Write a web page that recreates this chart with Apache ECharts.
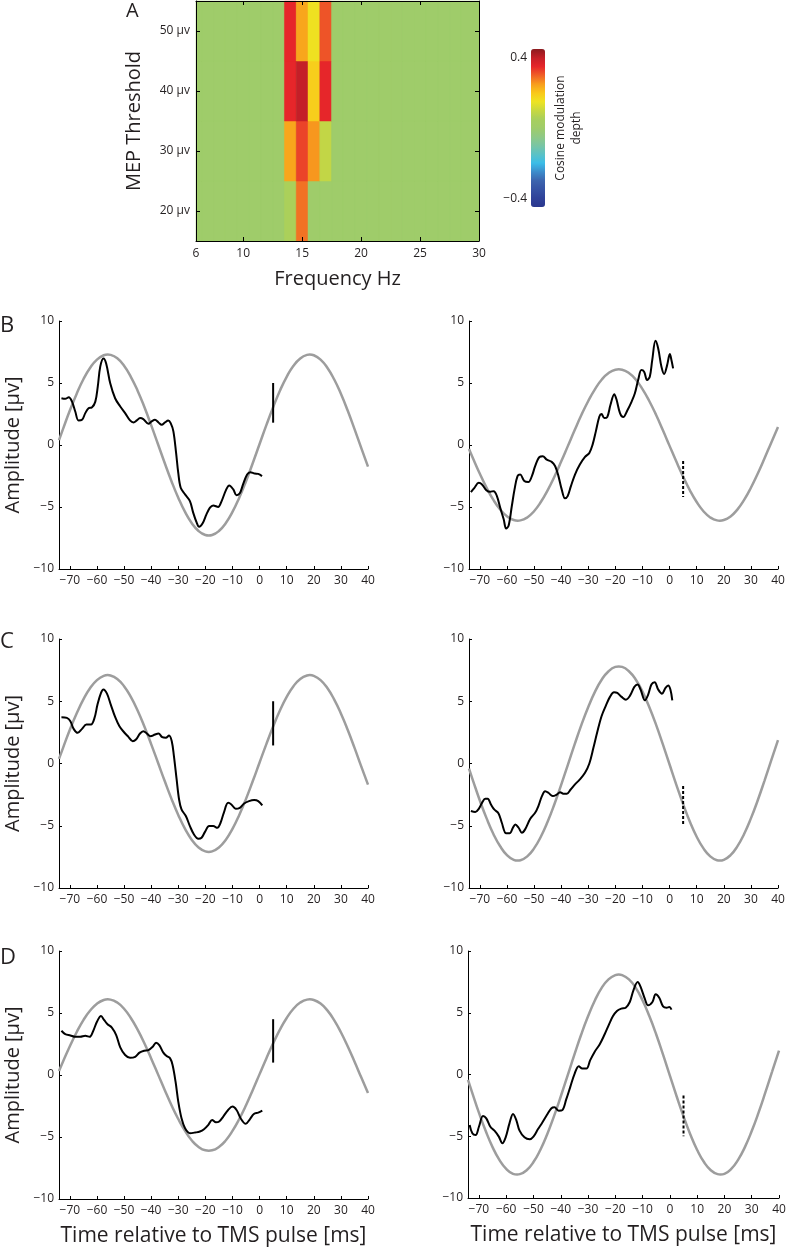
<!DOCTYPE html>
<html><head><meta charset="utf-8">
<script src="https://cdn.jsdelivr.net/npm/echarts@6/dist/echarts.min.js"></script>
<style>html,body{margin:0;padding:0;background:#fff}#c{width:787px;height:1252px}</style>
</head><body><div id="c"></div>
<script>
// ---------- Panel A data ----------
const freqHz = [6,7,8,9,10,11,12,13,14,15,16,17,18,19,20,21,22,23,24,25,26,27,28,29,30];
const thresholdsUv = [20,30,40,50];
const depthAt20 = [0,0,0,0,0,0,0,0, 0.055,0.285,0,0,    0,0,0,0,0,0,0,0,0,0,0,0,0];
const depthAt30 = [0,0,0,0,0,0,0,0, 0.24,0.325,0.255,0.09, 0,0,0,0,0,0,0,0,0,0,0,0,0];
const depthAt40 = [0,0,0,0,0,0,0,0, 0.35,0.40,0.19,0.35,  0,0,0,0,0,0,0,0,0,0,0,0,0];
const depthAt50 = [0,0,0,0,0,0,0,0, 0.35,0.24,0.155,0.31, 0,0,0,0,0,0,0,0,0,0,0,0,0];
const freqLabels = [6,10,15,20,25,30];
const freqTicks = [10,15,20,25];
const thresholdTicks = [20,30,40,50];
const colorbarTicks = [-0.4,0.4];
const jetSoft = ['#2a378e','#2f4299','#3552a4','#3c64ae','#3c8ccb','#3bbde8','#5ac2c6','#79c5a4','#8fc986','#9fcc6a','#a8cf5d','#c8d840','#eee422','#f9c81a','#f89d1d','#f05f27','#e6262a','#c41f28','#8c1b1f'];

// ---------- Panels B-D data ----------
const timeTicks = [-70,-60,-50,-40,-30,-20,-10,0,10,20,30,40];
const ampTicks = [-10,-5,0,5,10];
const fitTimeMs = [-74,-72.5,-70,-67.5,-65,-62.5,-60,-57.5,-56,-55,-52.5,-50,-47.5,-45,-42.5,-40,-37.5,-35,-32.5,-30,-27.5,-25,-22.5,-20,-18.75,-17.5,-15,-12.5,-10,-7.5,-5,-2.5,0,2.5,5,7.5,10,12.5,15,17.5,18.5,20,22.5,25,27.5,30,32.5,35,37.5,40];
const fitBL = [0.39,1.30,2.78,4.12,5.30,6.23,6.89,7.24,7.30,7.27,6.99,6.39,5.50,4.38,3.06,1.60,0.08,-1.45,-2.92,-4.25,-5.40,-6.31,-6.94,-7.26,-7.30,-7.26,-6.94,-6.31,-5.40,-4.25,-2.92,-1.45,0.08,1.60,3.05,4.38,5.50,6.39,6.98,7.27,7.30,7.24,6.89,6.23,5.30,4.13,2.78,1.30,-0.23,-1.75];
const fitBR = [-0.32,-1.09,-2.32,-3.45,-4.43,-5.20,-5.75,-6.05,-6.10,-6.08,-5.84,-5.34,-4.60,-3.66,-2.56,-1.34,-0.07,1.21,2.44,3.55,4.51,5.28,5.80,6.07,6.10,6.07,5.80,5.28,4.51,3.55,2.44,1.21,-0.07,-1.34,-2.55,-3.66,-4.60,-5.34,-5.84,-6.08,-6.10,-6.05,-5.76,-5.21,-4.43,-3.45,-2.32,-1.09,0.19,1.46];
const fitCL = [0.37,1.26,2.71,4.01,5.15,6.06,6.70,7.04,7.10,7.07,6.79,6.21,5.35,4.26,2.97,1.56,0.08,-1.41,-2.84,-4.13,-5.25,-6.14,-6.75,-7.06,-7.10,-7.06,-6.75,-6.14,-5.25,-4.13,-2.84,-1.41,0.08,1.56,2.97,4.26,5.35,6.21,6.79,7.07,7.10,7.04,6.70,6.06,5.15,4.02,2.71,1.27,-0.23,-1.70];
const fitCR = [-0.41,-1.39,-2.97,-4.41,-5.66,-6.65,-7.36,-7.74,-7.80,-7.77,-7.46,-6.82,-5.88,-4.68,-3.27,-1.71,-0.09,1.55,3.12,4.54,5.77,6.75,7.41,7.76,7.80,7.76,7.41,6.75,5.77,4.54,3.12,1.55,-0.08,-1.71,-3.26,-4.68,-5.88,-6.82,-7.46,-7.77,-7.80,-7.74,-7.36,-6.66,-5.66,-4.41,-2.97,-1.39,0.25,1.87];
const fitDL = [0.32,1.09,2.32,3.45,4.43,5.20,5.75,6.05,6.10,6.08,5.84,5.34,4.60,3.66,2.56,1.34,0.07,-1.21,-2.44,-3.55,-4.51,-5.28,-5.80,-6.07,-6.10,-6.07,-5.80,-5.28,-4.51,-3.55,-2.44,-1.21,0.07,1.34,2.55,3.66,4.60,5.34,5.84,6.08,6.10,6.05,5.76,5.21,4.43,3.45,2.32,1.09,-0.19,-1.46];
const fitDR = [-0.43,-1.44,-3.09,-4.58,-5.88,-6.91,-7.64,-8.04,-8.10,-8.07,-7.75,-7.09,-6.11,-4.86,-3.39,-1.78,-0.09,1.61,3.24,4.71,5.99,7.01,7.70,8.05,8.10,8.05,7.70,7.01,5.99,4.71,3.24,1.61,-0.09,-1.78,-3.39,-4.86,-6.11,-7.09,-7.75,-8.07,-8.10,-8.04,-7.64,-6.91,-5.88,-4.58,-3.09,-1.45,0.26,1.94];

const traceBL = [[-73.1,3.77],[-71.7,3.72],[-70.4,3.85],[-69.2,3.5],[-68,2.7],[-66.8,1.98],[-65.5,2.03],[-64.3,2.57],[-63.1,2.97],[-61.9,3.02],[-60.6,3.5],[-59.7,4.7],[-58.8,6.3],[-57.6,6.98],[-56.6,6.58],[-55.1,4.97],[-53.3,3.77],[-51.4,3.1],[-49.6,2.57],[-47.8,1.98],[-46.5,1.82],[-45.3,1.98],[-44.1,2.17],[-42.9,2.09],[-41,1.71],[-39.8,1.9],[-38.6,2.03],[-37.3,1.82],[-36.1,1.63],[-34.9,1.82],[-33.7,1.98],[-32.8,1.76],[-31.8,1.1],[-30.8,-0.64],[-30,-2.25],[-29.1,-3.45],[-27.5,-3.98],[-25.7,-4.52],[-24.5,-5.45],[-23.2,-6.26],[-22.3,-6.6],[-21,-6.31],[-19.6,-5.59],[-18.3,-5.05],[-17.1,-4.87],[-15.3,-5.0],[-14,-4.52],[-12.4,-3.64],[-11.2,-3.26],[-9.7,-3.58],[-8.5,-4.06],[-7.3,-3.9],[-6.1,-3.18],[-4.6,-2.38],[-3.4,-2.19],[-1.8,-2.3],[-0.5,-2.33],[0.9,-2.51]];
const traceBR = [[-73.3,-3.8],[-72,-3.45],[-70.4,-3.05],[-69.2,-3.18],[-67.6,-3.64],[-66.2,-3.77],[-64.9,-3.72],[-63.7,-4.12],[-62.5,-5.05],[-61.2,-5.99],[-60.3,-6.74],[-59.4,-6.52],[-58.2,-4.92],[-57.2,-3.58],[-56.1,-2.51],[-55.1,-2.38],[-53.6,-2.91],[-52.1,-2.99],[-50.8,-2.51],[-49.6,-1.71],[-48,-0.96],[-46.8,-0.91],[-45.3,-1.18],[-43.5,-1.36],[-42.2,-1.71],[-41,-2.51],[-39.8,-3.58],[-38.6,-4.3],[-37.6,-4.12],[-36.4,-3.32],[-34.9,-2.38],[-33.1,-1.58],[-31.2,-0.96],[-29.6,-0.64],[-28.4,0.03],[-27.2,1.1],[-25.9,2.3],[-25.1,2.49],[-24.1,2.17],[-23,2.25],[-21.8,3.24],[-20.4,4.09],[-19.6,3.69],[-18.3,2.57],[-17.1,2.25],[-15.6,2.78],[-14,3.5],[-12.8,4.17],[-11.6,5.24],[-10.4,6.04],[-9.4,5.91],[-8.3,5.24],[-7.3,5.51],[-6.4,6.84],[-5.2,8.4],[-4.2,7.78],[-3,6.31],[-2,5.72],[-0.9,6.44],[0.1,7.33],[0.7,6.84],[1.3,6.18]];
const traceCL = [[-73.1,3.72],[-71.1,3.66],[-69.8,3.4],[-68.6,2.78],[-67.1,2.46],[-65.5,2.78],[-63.9,3.13],[-62.2,3.13],[-60.9,3.66],[-59.8,4.73],[-58.5,5.67],[-57.6,5.94],[-56.3,5.61],[-54.9,4.73],[-53.3,3.74],[-51.7,2.99],[-50,2.51],[-48.4,2.14],[-46.8,1.79],[-45.6,1.93],[-44.1,2.41],[-42.9,2.59],[-41.6,2.41],[-40.2,2.19],[-38.6,2.33],[-37.3,2.41],[-35.9,2.11],[-34.6,2.06],[-33.4,2.25],[-32.4,1.79],[-31.6,0.59],[-30.6,-1.28],[-29.7,-2.89],[-28.8,-3.69],[-27.2,-4.22],[-25.7,-5.03],[-24.2,-5.7],[-22.6,-6.04],[-21.4,-5.96],[-20.2,-5.51],[-18.6,-5.03],[-17.1,-5.03],[-15.6,-5.16],[-14.4,-4.76],[-13.2,-3.96],[-11.6,-3.16],[-10.4,-3.29],[-8.8,-3.64],[-7.3,-3.56],[-5.7,-3.21],[-3.9,-3.02],[-2,-2.94],[-0.5,-3.02],[1,-3.37]];
const traceCR = [[-73.3,-3.82],[-71.7,-3.9],[-70.4,-3.64],[-69.2,-3.16],[-68,-2.83],[-67.1,-2.83],[-65.9,-3.29],[-64.7,-3.69],[-63.1,-4.01],[-61.9,-4.76],[-60.3,-5.61],[-59,-5.61],[-57.8,-5.16],[-56.9,-4.89],[-55.7,-5.16],[-54.5,-5.56],[-53.3,-5.29],[-51.4,-4.44],[-49.6,-3.96],[-48.4,-3.42],[-47.1,-2.62],[-45.9,-2.22],[-44.7,-2.35],[-43.1,-2.62],[-41.6,-2.49],[-40.4,-2.3],[-39.2,-2.43],[-37.9,-2.43],[-36.5,-2.09],[-34.9,-1.68],[-33.1,-1.28],[-31.2,-0.75],[-29.6,0],[-28.1,1.26],[-26.7,2.51],[-25.1,3.8],[-23.5,4.65],[-22,5.35],[-20.5,5.72],[-19.3,5.67],[-17.7,5.35],[-16.1,5.13],[-14.6,5.45],[-13,6.15],[-11.8,6.34],[-10.7,5.94],[-9.1,5.08],[-7.9,5.53],[-6.7,6.34],[-5.5,6.52],[-4.2,5.94],[-2.8,5.61],[-1.5,6.07],[-0.5,6.26],[0.3,5.94],[1,5.08]];
const traceDL = [[-73.1,3.57],[-71.7,3.3],[-69.8,3.19],[-68,3.08],[-66.2,3.08],[-64.3,3.16],[-62.7,3.08],[-61.5,3.49],[-60,4.29],[-58.5,4.75],[-57.3,4.42],[-56.1,4.1],[-54.5,3.83],[-52.9,3.22],[-51.4,2.23],[-49.6,1.61],[-47.8,1.39],[-45.9,1.47],[-44.3,1.8],[-42.6,1.96],[-41,2.01],[-39.4,2.28],[-38.2,2.6],[-37,2.41],[-35.5,1.8],[-34.3,1.53],[-33,1.34],[-32.1,0.8],[-31,-0.54],[-30,-2.14],[-28.8,-3.49],[-27.5,-4.29],[-25.7,-4.69],[-23.8,-4.64],[-22,-4.56],[-20.5,-4.37],[-18.9,-4.02],[-17.5,-3.62],[-16.1,-3.81],[-14.9,-3.75],[-13.4,-3.35],[-11.6,-2.82],[-10,-2.55],[-8.5,-2.82],[-7,-3.49],[-5.1,-3.94],[-3.6,-3.57],[-2.1,-3.14],[-0.5,-3.03],[1,-2.87]];
const traceDR = [[-73.4,-4.09],[-72.4,-4.76],[-71.2,-4.9],[-70,-4.23],[-68.5,-3.36],[-67.3,-3.55],[-65.8,-4.23],[-64.3,-4.55],[-62.7,-5.03],[-61.4,-5.57],[-60.2,-5.09],[-58.8,-3.96],[-57.5,-3.2],[-56.3,-3.69],[-55.1,-4.55],[-53.3,-5.09],[-51.4,-5.25],[-50,-5.03],[-48.4,-4.44],[-46.8,-3.9],[-45.1,-3.28],[-43.5,-2.75],[-42.3,-2.66],[-40.7,-2.93],[-39.4,-2.88],[-38,-2.02],[-36.5,-1],[-34.9,0.08],[-33.4,0.67],[-32.1,0.48],[-30.6,0.48],[-29.2,1.16],[-27.6,1.83],[-25.7,2.45],[-23.9,3.26],[-22.3,4.06],[-20.9,4.71],[-19.4,5.14],[-17.8,5.33],[-16.2,5.41],[-14.7,5.87],[-13.3,6.86],[-11.8,7.48],[-10.8,7.13],[-9.2,6.14],[-8,5.6],[-6.4,5.87],[-5.2,6.49],[-3.9,6.22],[-2.5,5.52],[-1.2,5.41],[-0.2,5.46],[0.6,5.25]];

const markerBL = [[5,1.8],[5,5.0]];
const markerBR = [[5,-1.3],[5,-4.2]];
const markerCL = [[5,1.45],[5,5.0]];
const markerCR = [[5,-1.8],[5,-5.0]];
const markerDL = [[5,1.0],[5,4.5]];
const markerDR = [[5,-1.7],[5,-5.0]];

const panelLetters = ['A','B','C','D'];

// ---------- build ----------
const FONT = 'Open Sans';
const TXT = '#231f20';
const minus = v => (v < 0 ? '\u2212' : '') + Math.abs(v);

const heatData = [];
[depthAt20, depthAt30, depthAt40, depthAt50].forEach((row, i) => {
  row.forEach((v, j) => heatData.push([freqHz[j], thresholdsUv[i], v]));
});
const halfW = (freqHz[1] - freqHz[0]) / 2;
const halfH = (thresholdsUv[1] - thresholdsUv[0]) / 2;

const grids = [
  {left:196, top:1, width:283, height:240, show:true, backgroundColor:'#9fcc6a', borderWidth:0},    // heatmap
  {left:531, top:49, width:14, height:158},    // colorbar axis
  {left:59, top:321, width:309, height:248},   // BL
  {left:469, top:321, width:309, height:248},  // BR
  {left:59, top:639, width:309, height:249},   // CL
  {left:469, top:639, width:309, height:249},  // CR
  {left:59, top:951, width:309, height:248},   // DL
  {left:468, top:951, width:311, height:247}   // DR
].map(g => Object.assign({outerBoundsMode:'none', containLabel:false}, g));

const axLine = {show:true, onZero:false, lineStyle:{color:'#000', width:1}};
const xAxes = [
  {gridIndex:0, type:'value', min:6, max:30, z:10, axisLine:axLine,
   axisTick:{show:true, inside:true, length:4, customValues:freqTicks, lineStyle:{color:'#000'}},
   axisLabel:{customValues:freqLabels, margin:7, fontFamily:FONT, fontSize:12, color:TXT},
   splitLine:{show:false},
   name:'Frequency Hz', nameLocation:'middle', nameGap:28,
   nameTextStyle:{fontFamily:FONT, fontSize:20, color:TXT}},
  {gridIndex:0, type:'value', min:6, max:30, position:'top', z:10, axisLine:axLine,
   axisTick:{show:true, inside:true, length:4, customValues:freqTicks, lineStyle:{color:'#000'}},
   axisLabel:{show:false}, splitLine:{show:false}},
  {gridIndex:1, type:'value', min:0, max:1, show:false}
];
const yAxes = [
  {gridIndex:0, type:'value', min:15, max:55, z:10, axisLine:axLine,
   axisTick:{show:true, inside:true, length:4, customValues:thresholdTicks, lineStyle:{color:'#000'}},
   axisLabel:{customValues:thresholdTicks, margin:6, fontFamily:FONT, fontSize:12, color:TXT, formatter: v => v + ' \u00b5v'},
   splitLine:{show:false},
   name:'MEP Threshold', nameLocation:'middle', nameGap:52,
   nameTextStyle:{fontFamily:FONT, fontSize:20, color:TXT}},
  {gridIndex:0, type:'value', min:15, max:55, position:'right', z:10, axisLine:axLine,
   axisTick:{show:true, inside:true, length:4, customValues:thresholdTicks, lineStyle:{color:'#000'}},
   axisLabel:{show:false}, splitLine:{show:false}},
  {gridIndex:1, type:'value', min:-0.45, max:0.45, axisLine:{show:false}, axisTick:{show:false},
   axisLabel:{customValues:colorbarTicks, margin:4, fontFamily:FONT, fontSize:12, color:TXT, formatter:minus},
   splitLine:{show:false}},
  {gridIndex:1, type:'value', min:-0.45, max:0.45, position:'right', axisLine:{show:false}, axisTick:{show:false},
   axisLabel:{show:false}, splitLine:{show:false},
   name:'Cosine modulation\ndepth', nameLocation:'middle', nameRotate:90, nameGap:8,
   nameTextStyle:{fontFamily:FONT, fontSize:12, color:TXT, lineHeight:16}}
];

const series = [{
  type:'custom', xAxisIndex:0, yAxisIndex:0, data:heatData, z:2,
  renderItem: function (params, api) {
    const f = api.value(0), th = api.value(1);
    const p1 = api.coord([f - halfW, th + halfH]);
    const p2 = api.coord([f + halfW, th - halfH]);
    const cs = params.coordSys;
    const r = echarts.graphic.clipRectByRect(
      {x:p1[0], y:p1[1], width:p2[0]-p1[0], height:p2[1]-p1[1]},
      {x:cs.x, y:cs.y, width:cs.width, height:cs.height});
    if (!r) return;
    const c = api.visual('color');
    return {type:'rect', shape:r, style:{fill:c, stroke:c, lineWidth:0.5}};
  }
}];

const panels = [
  {fit:fitBL, trace:traceBL, marker:markerBL, dashed:false, left:true,  bottom:false},
  {fit:fitBR, trace:traceBR, marker:markerBR, dashed:true,  left:false, bottom:false},
  {fit:fitCL, trace:traceCL, marker:markerCL, dashed:false, left:true,  bottom:false},
  {fit:fitCR, trace:traceCR, marker:markerCR, dashed:true,  left:false, bottom:false},
  {fit:fitDL, trace:traceDL, marker:markerDL, dashed:false, left:true,  bottom:true},
  {fit:fitDR, trace:traceDR, marker:markerDR, dashed:true,  left:false, bottom:true}
];
panels.forEach((p, k) => {
  const gi = k + 2;
  const xi = xAxes.length, yi = yAxes.length;
  const xa = {gridIndex:gi, type:'value', min:-74, max:40, axisLine:axLine,
    axisTick:{show:true, inside:true, length:3, customValues:timeTicks, lineStyle:{color:'#000'}},
    axisLabel:{customValues:timeTicks, margin:6, fontFamily:FONT, fontSize:12, color:TXT, formatter:minus},
    splitLine:{show:false}};
  if (p.bottom) Object.assign(xa, {name:'Time relative to TMS pulse [ms]', nameLocation:'middle', nameGap:27,
    nameTextStyle:{fontFamily:FONT, fontSize:21, color:TXT}});
  const ya = {gridIndex:gi, type:'value', min:-10, max:10, interval:5, axisLine:axLine,
    axisTick:{show:true, inside:true, length:3, customValues:ampTicks, lineStyle:{color:'#000'}},
    axisLabel:{customValues:ampTicks, margin:5, fontFamily:FONT, fontSize:12, color:TXT, formatter:minus},
    splitLine:{show:false}};
  if (p.left) Object.assign(ya, {name:'Amplitude [\u00b5v]', nameLocation:'middle', nameGap:36,
    nameTextStyle:{fontFamily:FONT, fontSize:20, color:TXT}});
  xAxes.push(xa); yAxes.push(ya);
  series.push({type:'line', xAxisIndex:xi, yAxisIndex:yi, smooth:true, showSymbol:false, symbol:'none',
    data: fitTimeMs.map((t, i) => [t, p.fit[i]]), lineStyle:{color:'#9d9d9d', width:2.5}, z:2});
  series.push({type:'line', xAxisIndex:xi, yAxisIndex:yi, smooth:0.35, showSymbol:false, symbol:'none',
    data: p.trace, lineStyle:{color:'#000', width:2}, z:3});
  series.push({type:'line', xAxisIndex:xi, yAxisIndex:yi, showSymbol:false, symbol:'none',
    data: p.marker, lineStyle:{color:'#000', width:2, type: p.dashed ? [3,2] : 'solid'}, z:4});
});

const letterPos = [[126,1,20],[0,315,22],[0,631,22],[0,947,22]];
const letters = panelLetters.map((t, i) => ({type:'text', left:letterPos[i][0], top:letterPos[i][1], z:100,
  style:{text:t, fontFamily:FONT, fontSize:letterPos[i][2], fill:TXT}}));

const chart = echarts.init(document.getElementById('c'), null, {renderer:'canvas'});
chart.setOption({
  animation:false,
  backgroundColor:'#fff',
  graphic:letters,
  grid:grids,
  xAxis:xAxes,
  yAxis:yAxes,
  visualMap:{type:'continuous', seriesIndex:0, dimension:2, min:-0.45, max:0.45,
    left:531, top:49, itemWidth:14, itemHeight:158, padding:0, calculable:false,
    inRange:{color:jetSoft}, text:null, showLabel:false, hoverLink:false},
  series:series
});
</script></body></html>
